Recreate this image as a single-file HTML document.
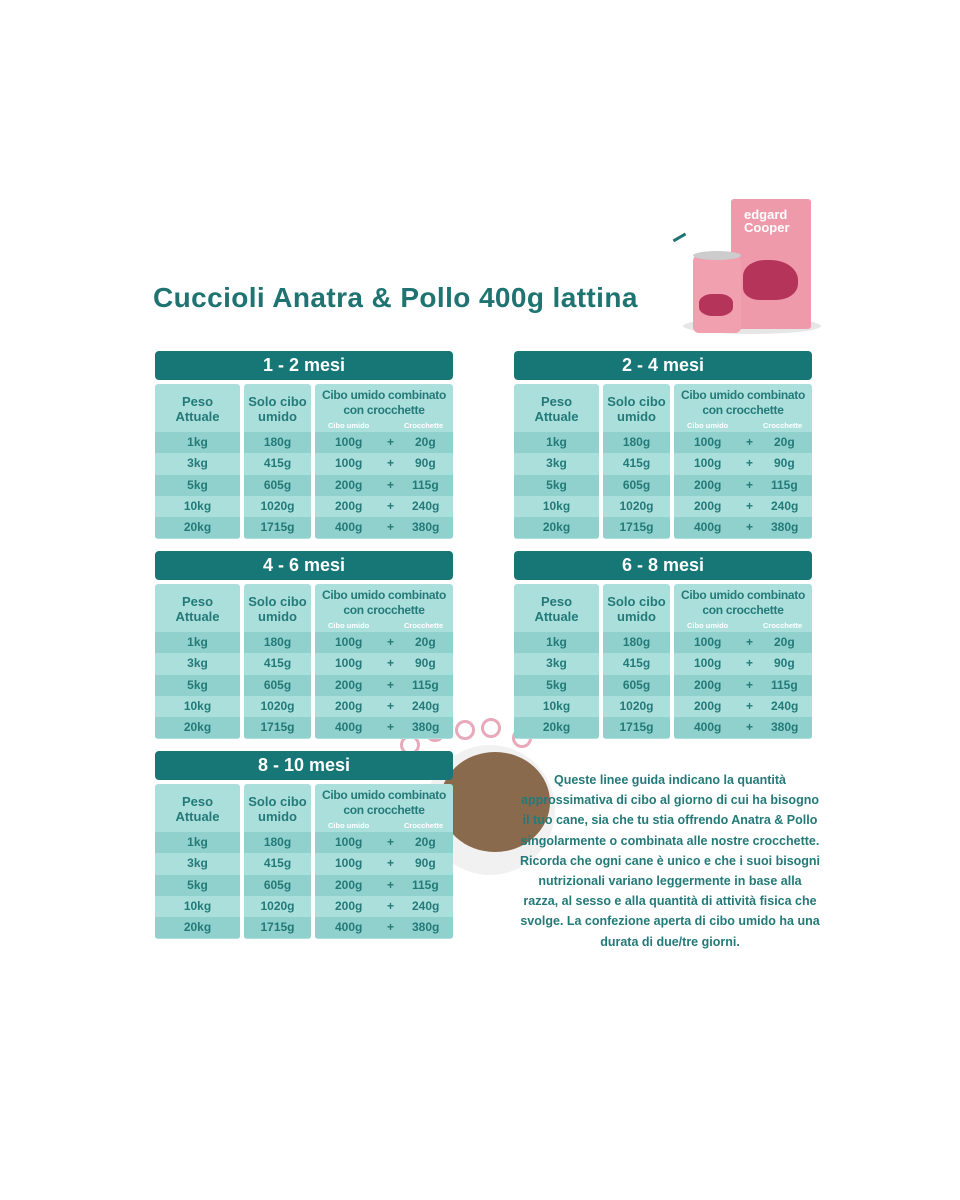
<!DOCTYPE html>
<html><head><meta charset="utf-8"><style>
body{margin:0;width:960px;height:1200px;background:#fff;position:relative;overflow:hidden;font-family:"Liberation Sans",sans-serif;color:#237a78}
.t{position:absolute;width:298px;height:188px}
.h{position:absolute;left:0;top:0;width:298px;height:29px;background:#177676;border-radius:4px;color:#fff;font-weight:bold;font-size:18px;text-align:center;line-height:29px}
.c{position:absolute;top:33px;height:155px;background:#abdfdc;border-radius:3px;overflow:hidden}
.c1{left:0;width:85px}.c2{left:89px;width:67px}.c3{left:160px;width:138px}
.hd{position:absolute;top:4px;left:0;right:0;text-align:center;font-size:13px;font-weight:bold;line-height:15px;white-space:nowrap}
.c3 .hd{font-size:12px;letter-spacing:-0.3px}
.sub{position:absolute;top:37px;font-size:7.5px;color:#fff;font-weight:bold}
.r{position:absolute;left:0;right:0;height:21.3px;line-height:21px;font-size:12px;font-weight:bold;text-align:center}
.d{background:#90d1cd}
.r span{position:absolute}
.ring{position:absolute;width:14px;height:14px;border:3px solid #e8a9ba;border-radius:50%}
</style></head><body>

<div style="position:absolute;left:153px;top:282px;font-size:28px;font-weight:bold;color:#1f7472;letter-spacing:0.4px;white-space:nowrap">Cuccioli Anatra &amp; Pollo 400g lattina</div>

<!-- product image -->
<div style="position:absolute;left:683px;top:318px;width:138px;height:16px;background:#e6e6e6;border-radius:50%"></div>
<div style="position:absolute;left:731px;top:199px;width:80px;height:130px;background:#ef9aaa;border-radius:3px"></div>
<div style="position:absolute;left:743px;top:260px;width:55px;height:40px;background:#b5345a;border-radius:40% 50% 40% 30%"></div>
<div style="position:absolute;left:744px;top:208px;font-size:13px;color:#fff;font-weight:bold;line-height:13px">edgard<br>Cooper</div>
<div style="position:absolute;left:693px;top:255px;width:48px;height:78px;background:#f0a0ae;border-radius:6px"></div>
<div style="position:absolute;left:693px;top:251px;width:48px;height:9px;background:#ccc;border-radius:50%"></div>
<div style="position:absolute;left:699px;top:294px;width:34px;height:22px;background:#b5345a;border-radius:40%"></div>
<div style="position:absolute;left:676px;top:235px;width:14px;height:14px;border-top:3px solid #1f7472;transform:rotate(-30deg)"></div>

<!-- bowl -->
<div style="position:absolute;left:425px;top:745px;width:130px;height:130px;background:#f1f1f1;border-radius:50%"></div>
<div style="position:absolute;left:440px;top:752px;width:110px;height:100px;background:#8a6a4c;border-radius:50%"></div>
<div class="ring" style="left:425px;top:722px"></div>
<div class="ring" style="left:455px;top:720px"></div>
<div class="ring" style="left:481px;top:718px"></div>
<div class="ring" style="left:512px;top:728px"></div>
<div class="ring" style="left:400px;top:735px"></div>

<div style="position:absolute;left:500px;top:770px;width:340px;text-align:center;font-size:12.5px;font-weight:bold;line-height:20.2px;color:#237a78;white-space:nowrap">Queste linee guida indicano la quantità<br>approssimativa di cibo al giorno di cui ha bisogno<br>il tuo cane, sia che tu stia offrendo Anatra &amp; Pollo<br>singolarmente o combinata alle nostre crocchette.<br>Ricorda che ogni cane è unico e che i suoi bisogni<br>nutrizionali variano leggermente in base alla<br>razza, al sesso e alla quantità di attività fisica che<br>svolge. La confezione aperta di cibo umido ha una<br>durata di due/tre giorni.</div>

<div class="t" style="left:155px;top:351px">
<div class="h">1 - 2 mesi</div>
<div class="c c1"><div class="hd" style="top:10px">Peso<br>Attuale</div>
<div class="r d" style="top:48px">1kg</div><div class="r" style="top:69.3px">3kg</div><div class="r d" style="top:90.6px">5kg</div><div class="r" style="top:111.9px">10kg</div><div class="r d" style="top:133.2px">20kg</div></div>
<div class="c c2"><div class="hd" style="top:10px">Solo cibo<br>umido</div>
<div class="r d" style="top:48px">180g</div><div class="r" style="top:69.3px">415g</div><div class="r d" style="top:90.6px">605g</div><div class="r" style="top:111.9px">1020g</div><div class="r d" style="top:133.2px">1715g</div></div>
<div class="c c3"><div class="hd">Cibo umido combinato<br>con crocchette</div><div class="sub" style="left:13px">Cibo umido</div><div class="sub" style="left:89px">Crocchette</div>
<div class="r d" style="top:48px"><span style="left:20px">100g</span><span style="left:72px">+</span><span style="left:100px">20g</span></div>
<div class="r" style="top:69.3px"><span style="left:20px">100g</span><span style="left:72px">+</span><span style="left:100px">90g</span></div>
<div class="r d" style="top:90.6px"><span style="left:20px">200g</span><span style="left:72px">+</span><span style="left:97px">115g</span></div>
<div class="r" style="top:111.9px"><span style="left:20px">200g</span><span style="left:72px">+</span><span style="left:97px">240g</span></div>
<div class="r d" style="top:133.2px"><span style="left:20px">400g</span><span style="left:72px">+</span><span style="left:97px">380g</span></div></div>
</div>

<div class="t" style="left:514px;top:351px">
<div class="h">2 - 4 mesi</div>
<div class="c c1"><div class="hd" style="top:10px">Peso<br>Attuale</div>
<div class="r d" style="top:48px">1kg</div><div class="r" style="top:69.3px">3kg</div><div class="r d" style="top:90.6px">5kg</div><div class="r" style="top:111.9px">10kg</div><div class="r d" style="top:133.2px">20kg</div></div>
<div class="c c2"><div class="hd" style="top:10px">Solo cibo<br>umido</div>
<div class="r d" style="top:48px">180g</div><div class="r" style="top:69.3px">415g</div><div class="r d" style="top:90.6px">605g</div><div class="r" style="top:111.9px">1020g</div><div class="r d" style="top:133.2px">1715g</div></div>
<div class="c c3"><div class="hd">Cibo umido combinato<br>con crocchette</div><div class="sub" style="left:13px">Cibo umido</div><div class="sub" style="left:89px">Crocchette</div>
<div class="r d" style="top:48px"><span style="left:20px">100g</span><span style="left:72px">+</span><span style="left:100px">20g</span></div>
<div class="r" style="top:69.3px"><span style="left:20px">100g</span><span style="left:72px">+</span><span style="left:100px">90g</span></div>
<div class="r d" style="top:90.6px"><span style="left:20px">200g</span><span style="left:72px">+</span><span style="left:97px">115g</span></div>
<div class="r" style="top:111.9px"><span style="left:20px">200g</span><span style="left:72px">+</span><span style="left:97px">240g</span></div>
<div class="r d" style="top:133.2px"><span style="left:20px">400g</span><span style="left:72px">+</span><span style="left:97px">380g</span></div></div>
</div>

<div class="t" style="left:155px;top:551px">
<div class="h">4 - 6 mesi</div>
<div class="c c1"><div class="hd" style="top:10px">Peso<br>Attuale</div>
<div class="r d" style="top:48px">1kg</div><div class="r" style="top:69.3px">3kg</div><div class="r d" style="top:90.6px">5kg</div><div class="r" style="top:111.9px">10kg</div><div class="r d" style="top:133.2px">20kg</div></div>
<div class="c c2"><div class="hd" style="top:10px">Solo cibo<br>umido</div>
<div class="r d" style="top:48px">180g</div><div class="r" style="top:69.3px">415g</div><div class="r d" style="top:90.6px">605g</div><div class="r" style="top:111.9px">1020g</div><div class="r d" style="top:133.2px">1715g</div></div>
<div class="c c3"><div class="hd">Cibo umido combinato<br>con crocchette</div><div class="sub" style="left:13px">Cibo umido</div><div class="sub" style="left:89px">Crocchette</div>
<div class="r d" style="top:48px"><span style="left:20px">100g</span><span style="left:72px">+</span><span style="left:100px">20g</span></div>
<div class="r" style="top:69.3px"><span style="left:20px">100g</span><span style="left:72px">+</span><span style="left:100px">90g</span></div>
<div class="r d" style="top:90.6px"><span style="left:20px">200g</span><span style="left:72px">+</span><span style="left:97px">115g</span></div>
<div class="r" style="top:111.9px"><span style="left:20px">200g</span><span style="left:72px">+</span><span style="left:97px">240g</span></div>
<div class="r d" style="top:133.2px"><span style="left:20px">400g</span><span style="left:72px">+</span><span style="left:97px">380g</span></div></div>
</div>

<div class="t" style="left:514px;top:551px">
<div class="h">6 - 8 mesi</div>
<div class="c c1"><div class="hd" style="top:10px">Peso<br>Attuale</div>
<div class="r d" style="top:48px">1kg</div><div class="r" style="top:69.3px">3kg</div><div class="r d" style="top:90.6px">5kg</div><div class="r" style="top:111.9px">10kg</div><div class="r d" style="top:133.2px">20kg</div></div>
<div class="c c2"><div class="hd" style="top:10px">Solo cibo<br>umido</div>
<div class="r d" style="top:48px">180g</div><div class="r" style="top:69.3px">415g</div><div class="r d" style="top:90.6px">605g</div><div class="r" style="top:111.9px">1020g</div><div class="r d" style="top:133.2px">1715g</div></div>
<div class="c c3"><div class="hd">Cibo umido combinato<br>con crocchette</div><div class="sub" style="left:13px">Cibo umido</div><div class="sub" style="left:89px">Crocchette</div>
<div class="r d" style="top:48px"><span style="left:20px">100g</span><span style="left:72px">+</span><span style="left:100px">20g</span></div>
<div class="r" style="top:69.3px"><span style="left:20px">100g</span><span style="left:72px">+</span><span style="left:100px">90g</span></div>
<div class="r d" style="top:90.6px"><span style="left:20px">200g</span><span style="left:72px">+</span><span style="left:97px">115g</span></div>
<div class="r" style="top:111.9px"><span style="left:20px">200g</span><span style="left:72px">+</span><span style="left:97px">240g</span></div>
<div class="r d" style="top:133.2px"><span style="left:20px">400g</span><span style="left:72px">+</span><span style="left:97px">380g</span></div></div>
</div>

<div class="t" style="left:155px;top:751px">
<div class="h">8 - 10 mesi</div>
<div class="c c1"><div class="hd" style="top:10px">Peso<br>Attuale</div>
<div class="r d" style="top:48px">1kg</div><div class="r" style="top:69.3px">3kg</div><div class="r d" style="top:90.6px">5kg</div><div class="r" style="top:111.9px">10kg</div><div class="r d" style="top:133.2px">20kg</div></div>
<div class="c c2"><div class="hd" style="top:10px">Solo cibo<br>umido</div>
<div class="r d" style="top:48px">180g</div><div class="r" style="top:69.3px">415g</div><div class="r d" style="top:90.6px">605g</div><div class="r" style="top:111.9px">1020g</div><div class="r d" style="top:133.2px">1715g</div></div>
<div class="c c3"><div class="hd">Cibo umido combinato<br>con crocchette</div><div class="sub" style="left:13px">Cibo umido</div><div class="sub" style="left:89px">Crocchette</div>
<div class="r d" style="top:48px"><span style="left:20px">100g</span><span style="left:72px">+</span><span style="left:100px">20g</span></div>
<div class="r" style="top:69.3px"><span style="left:20px">100g</span><span style="left:72px">+</span><span style="left:100px">90g</span></div>
<div class="r d" style="top:90.6px"><span style="left:20px">200g</span><span style="left:72px">+</span><span style="left:97px">115g</span></div>
<div class="r" style="top:111.9px"><span style="left:20px">200g</span><span style="left:72px">+</span><span style="left:97px">240g</span></div>
<div class="r d" style="top:133.2px"><span style="left:20px">400g</span><span style="left:72px">+</span><span style="left:97px">380g</span></div></div>
</div>

</body></html>
